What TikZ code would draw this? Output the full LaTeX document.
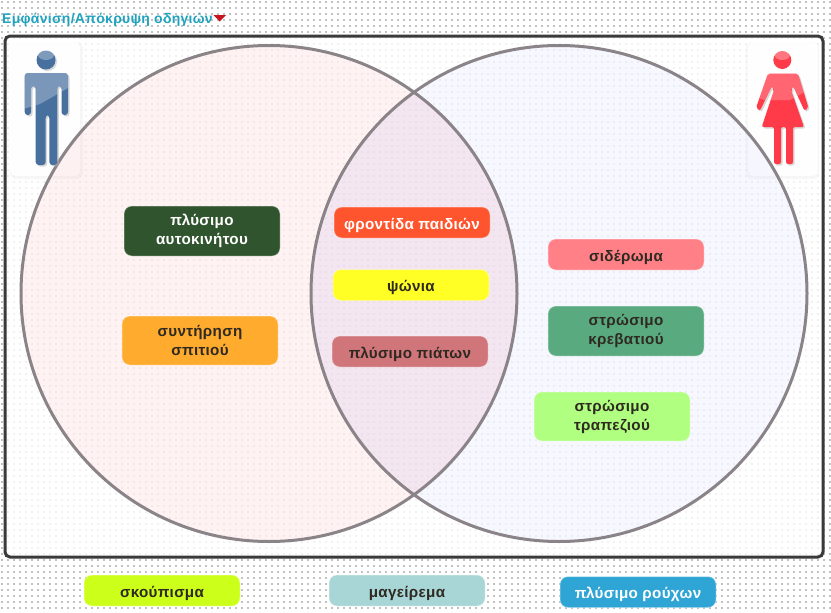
\documentclass[tikz,border=0pt]{standalone}
\usepackage{fontspec}
\setmainfont[LetterSpace=2]{Liberation Sans}
\usepackage{xcolor}
\usetikzlibrary{positioning}

\definecolor{framedark}{HTML}{3A3A3A}
\definecolor{ringgray}{HTML}{8A8488}
\definecolor{titleblue}{HTML}{1FA3BE}
\definecolor{tagdark}{HTML}{2E2A22}
\definecolor{manblue}{HTML}{47709F}
\definecolor{womanred}{HTML}{FF3B4A}
\definecolor{arrowred}{HTML}{C8141E}
\definecolor{cargreen}{HTML}{30552E}
\definecolor{upkeeporange}{HTML}{FFAB2E}
\definecolor{childrenred}{HTML}{FF552E}
\definecolor{shopyellow}{HTML}{FFFF26}
\definecolor{dishrose}{HTML}{D0757A}
\definecolor{ironpink}{HTML}{FF8086}
\definecolor{bedgreen}{HTML}{5AAA80}
\definecolor{tablegreen}{HTML}{B0FF80}
\definecolor{sweeplime}{HTML}{CCFF1A}
\definecolor{cooksea}{HTML}{A8D5D5}
\definecolor{laundryblue}{HTML}{2EA5D5}

\newcommand{\manpath}{(35.7,165) -- (35.7,86) -- (31,86) -- (31,115) -- (24.7,115) -- (24.7,73) -- (68,73) -- (68,115) -- (61.5,115) -- (61.5,86) -- (57.3,86) -- (57.3,165) -- (49.3,165) -- (49.3,115) -- (45.7,115) -- (45.7,165) -- cycle}
\newcommand{\womanpath}{(774,164) -- (774,127) -- (761.7,127) -- (774,90) -- (772,86) -- (760,110.7) -- (756,108) -- (768,73.5) -- (798,73.5) -- (808.5,108) -- (804.5,110.7) -- (793,86) -- (791,90) -- (804,127) -- (793,127) -- (793,164) -- (786,164) -- (786,127) -- (781,127) -- (781,164) -- cycle}

\begin{document}
\begin{tikzpicture}[
    x=1pt, y=-1pt,
    tag/.style={rectangle, rounded corners=8pt, minimum width=156pt, minimum height=31pt, inner sep=0pt,
        align=center, text=tagdark, font=\fontsize{15.2}{19}\selectfont\bfseries,
        execute at begin node={\rule{0pt}{17pt}},
        draw=white, draw opacity=0.3, line width=1pt},
    ring/.style={draw=ringgray, line width=3pt},
    dotrow/.style={draw=black!24, line width=1.6pt, dash pattern=on 1.6pt off 4.4pt}
]
    \useasboundingbox (0,0) rectangle (831,613);
    \fill[white] (0,0) rectangle (831,613);

    % dotted page
    \foreach \j in {0,...,102} {
        \draw[dotrow] (1,\j*6+1.8) -- (831,\j*6+1.8);
    }

    % frame
    \draw[draw=framedark, fill=white, fill opacity=0.78, line width=3pt, rounded corners=5pt] (5,36) rectangle (823,557);

    % figure panels
    \fill[black!6, opacity=0.5, rounded corners=6pt] (10,42) rectangle (83,179);
    \fill[white, opacity=0.9, rounded corners=6pt] (10,42) rectangle (80,176);
    \fill[black!6, opacity=0.5, rounded corners=6pt] (746,42) rectangle (819,179);
    \fill[white, opacity=0.9, rounded corners=6pt] (748,42) rectangle (818,176);

    % sets
    \fill[red!25!white, opacity=0.2] (269,293.5) circle (248);
    \fill[blue!20!white, opacity=0.14] (559,293.5) circle (248);
    \begin{scope}
        \clip (269,293.5) circle (248);
        \fill[violet!35!white, opacity=0.08] (559,293.5) circle (248);
    \end{scope}
    \draw[ring] (269,293.5) circle (248);
    \draw[ring] (559,293.5) circle (248);

    % man
    \fill[black!30, opacity=0.5, rounded corners=3pt, xshift=1.5pt, yshift=-1.5pt] \manpath;
    \fill[black!30, opacity=0.5, xshift=1.5pt, yshift=-1.5pt] (46,60) circle (9.5);
    \fill[manblue, rounded corners=3pt] \manpath;
    \fill[manblue] (46,60) circle (9.5);
    \begin{scope}
        \clip[rounded corners=3pt] \manpath;
        \fill[white, opacity=0.28] (20,70) -- (72,70) -- (72,88) -- (68,88) -- (40,104) -- (20,110) -- cycle;
    \end{scope}
    \fill[white, opacity=0.3] (46,55) ellipse (8 and 5);

    % woman
    \fill[black!30, opacity=0.5, rounded corners=2pt, xshift=1.5pt, yshift=-1.5pt] \womanpath;
    \fill[womanred, rounded corners=2pt] \womanpath;
    \fill[womanred] (782.3,60) circle (9);
    \begin{scope}
        \clip \womanpath;
        \fill[white, opacity=0.22] (750,70) -- (812,70) -- (812,88) -- (790,100) -- (765,100) -- (750,96) -- cycle;
    \end{scope}
    \fill[white, opacity=0.3] (782.3,55.5) ellipse (7.5 and 4.5);

    % title
    \node[anchor=west, inner sep=0pt, text=titleblue, font=\fontsize{14}{15}\selectfont\bfseries] (toggle) at (2,19.5) {Εμφάνιση/Απόκρυψη οδηγιών};
    \fill[arrowred] (213.5,15) -- (226,15) -- (219.7,21.5) -- cycle;

    % left set
    \node[tag, fill=cargreen, text=white, minimum height=50pt] (carwash) at (202,231) {πλύσιμο\\αυτοκινήτου};
    \node[tag, fill=upkeeporange, minimum height=49pt] (upkeep) at (200,340.5) {συντήρηση\\σπιτιού};

    % both sets
    \node[tag, fill=childrenred, text=white] (children) at (412,222.5) {φροντίδα παιδιών};
    \node[tag, fill=shopyellow] (shopping) at (411,285) {ψώνια};
    \node[tag, fill=dishrose] (dishes) at (410,351.5) {πλύσιμο πιάτων};

    % right set
    \node[tag, fill=ironpink] (ironing) at (626,254.5) {σιδέρωμα};
    \node[tag, fill=bedgreen, minimum height=50pt] (bed) at (626,331) {στρώσιμο\\κρεβατιού};
    \node[tag, fill=tablegreen, minimum height=49pt] (table) at (612,416.5) {στρώσιμο\\τραπεζιού};

    % bottom row
    \node[tag, fill=sweeplime] (sweeping) at (162,590.5) {σκούπισμα};
    \node[tag, fill=cooksea] (cooking) at (407,590.5) {μαγείρεμα};
    \node[tag, fill=laundryblue, text=white] (laundry) at (638,592) {πλύσιμο ρούχων};
\end{tikzpicture}
\end{document}
